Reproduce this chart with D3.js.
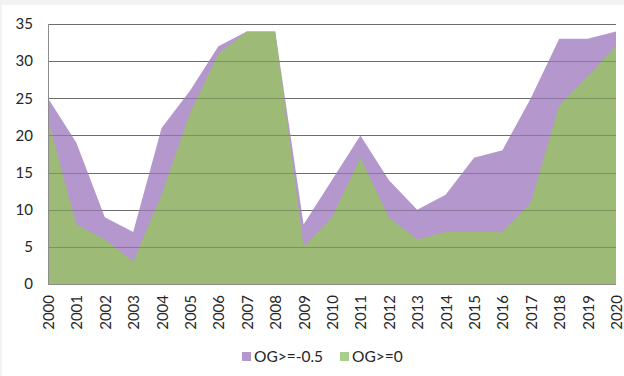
<!DOCTYPE html>
<html>
<head>
<meta charset="utf-8">
<script src="https://cdn.jsdelivr.net/npm/d3@7"></script>
<style>
  html, body { margin: 0; padding: 0; background: #f2f2f2; }
  svg { display: block; }
  text { font-family: Lato, "Open Sans", sans-serif; }
</style>
</head>
<body>
<svg id="chart" width="624" height="376"></svg>
<script>
const years = ["2000","2001","2002","2003","2004","2005","2006","2007","2008","2009","2010",
               "2011","2012","2013","2014","2015","2016","2017","2018","2019","2020"];
const seriesNames = ["OG>=-0.5", "OG>=0"];
const ogMinusHalf = [25, 19, 9, 7, 21, 26, 32, 34, 34, 8, 14, 20, 14, 10, 12, 17, 18, 25, 33, 33, 34];
const ogZero      = [22, 8, 6, 3, 12, 23, 31, 34, 34, 5, 9, 17, 9, 6, 7, 7, 7, 11, 24, 28, 32];
const yTicks = [0, 5, 10, 15, 20, 25, 30, 35];

const areaColors = ["#b497cd", "#9dbb76"];
const legendColors = ["#b497cd", "#a8d08d"];

const svg = d3.select("#chart");
svg.append("rect").attr("x", 2).attr("y", 5).attr("width", 622).attr("height", 371).attr("fill", "#fff");

const x = d3.scalePoint().domain(years).range([48, 616]);
const y = d3.scaleLinear().domain([0, 35]).range([284, 24]);

// gridlines beneath the areas
const grid = svg.append("g");
grid.selectAll("line").data(yTicks).join("line")
  .attr("x1", 48).attr("x2", 616)
  .attr("y1", d => Math.round(y(d)) + 0.5).attr("y2", d => Math.round(y(d)) + 0.5)
  .attr("stroke", "#8c8c8c").attr("stroke-width", 1);

const area = vals => d3.area()
  .x((d, i) => x(years[i]))
  .y0(y(0))
  .y1(d => y(d))(vals);

svg.append("path").attr("d", area(ogMinusHalf)).attr("fill", areaColors[0]);
svg.append("path").attr("d", area(ogZero)).attr("fill", areaColors[1]);

// gridlines showing faintly through the filled areas
svg.append("g").selectAll("line").data(yTicks.slice(1)).join("line")
  .attr("x1", 48).attr("x2", 616)
  .attr("y1", d => Math.round(y(d)) + 0.5).attr("y2", d => Math.round(y(d)) + 0.5)
  .attr("stroke", "#000").attr("stroke-opacity", 0.22).attr("stroke-width", 1);

// left axis line
svg.append("line").attr("x1", 48.5).attr("x2", 48.5).attr("y1", y(35)).attr("y2", y(0))
  .attr("stroke", "#8c8c8c");
// bottom axis line
svg.append("line").attr("x1", 48).attr("x2", 616).attr("y1", 284.5).attr("y2", 284.5)
  .attr("stroke", "#8c8c8c");

// y axis labels
const yAxis = svg.append("g").attr("transform", "translate(48,0)")
  .call(d3.axisLeft(y).tickValues(yTicks).tickSize(0).tickPadding(15));
yAxis.select(".domain").remove();
yAxis.selectAll("text").attr("font-size", 15).attr("fill", "#262626")
  .style("font-family", "Lato, sans-serif");

// x axis labels, rotated
const xAxis = svg.append("g").attr("transform", "translate(0,284)")
  .call(d3.axisBottom(x).tickSize(0).tickPadding(0));
xAxis.select(".domain").remove();
xAxis.selectAll("text")
  .attr("font-size", 15).attr("fill", "#262626")
  .style("font-family", "Lato, sans-serif")
  .attr("text-anchor", "end")
  .attr("transform", "rotate(-90)")
  .attr("x", -11).attr("y", 0).attr("dy", "0.36em");

// legend
const legend = svg.append("g");
const legendItems = [{ name: seriesNames[0], x: 242 }, { name: seriesNames[1], x: 340 }];
legendItems.forEach((it, i) => {
  legend.append("rect").attr("x", it.x).attr("y", 352).attr("width", 9).attr("height", 9)
    .attr("fill", legendColors[i]);
  legend.append("text").attr("x", it.x + 12).attr("y", 362)
    .attr("font-size", 15.5).attr("fill", "#262626").text(it.name);
});
</script>
</body>
</html>
